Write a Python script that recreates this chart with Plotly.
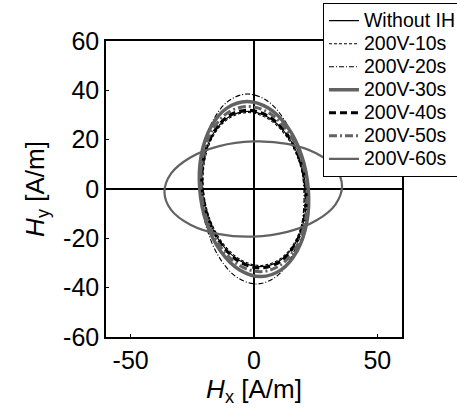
import plotly.graph_objects as go

# Series names
names = ["Without IH", "200V-10s", "200V-20s", "200V-30s", "200V-40s", "200V-50s", "200V-60s"]

# Loci (Hx, Hy in A/m), closed loops
without_ih_x = [21.0, 18.4, 13.1, 5.7, -2.5, -10.4, -16.6, -20.4, -21.0, -18.4, -13.1, -5.7, 2.5, 10.4, 16.6, 20.4, 21.0]
without_ih_y = [0, 12.1, 22.3, 29.1, 31.5, 29.1, 22.3, 12.1, 0, -12.1, -22.3, -29.1, -31.5, -29.1, -22.3, -12.1, 0]

s10_x = [20.5, 18.0, 12.7, 5.5, -2.5, -10.2, -16.3, -19.9, -20.5, -18.0, -12.7, -5.5, 2.5, 10.2, 16.3, 19.9, 20.5]
s10_y = [0, 11.9, 21.9, 28.6, 31.0, 28.6, 21.9, 11.9, 0, -11.9, -21.9, -28.6, -31.0, -28.6, -21.9, -11.9, 0]

s20_x = [20.2, 17.9, 12.8, 5.6, -2.6, -10.5, -16.9, -20.9, -21.8, -19.5, -14.4, -7.2, 1.0, 8.9, 15.3, 19.3, 20.2]
s20_y = [0, 14.7, 27.2, 35.6, 38.5, 35.6, 27.2, 14.7, 0, -14.7, -27.2, -35.6, -38.5, -35.6, -27.2, -14.7, 0]

s30_x = [22.0, 19.3, 13.6, 5.8, -2.8, -11.0, -17.5, -21.4, -22.0, -19.3, -13.6, -5.8, 2.8, 11.0, 17.5, 21.4, 22.0]
s30_y = [0, 13.6, 25.1, 32.8, 35.5, 32.8, 25.1, 13.6, 0, -13.6, -25.1, -32.8, -35.5, -32.8, -25.1, -13.6, 0]

s40_x = [21.0, 18.4, 13.1, 5.7, -2.5, -10.4, -16.6, -20.4, -21.0, -18.4, -13.1, -5.7, 2.5, 10.4, 16.6, 20.4, 21.0]
s40_y = [0, 12.3, 22.6, 29.6, 32.0, 29.6, 22.6, 12.3, 0, -12.3, -22.6, -29.6, -32.0, -29.6, -22.6, -12.3, 0]

s50_x = [21.5, 18.9, 13.4, 5.9, -2.5, -10.5, -17.0, -20.8, -21.5, -18.9, -13.4, -5.9, 2.5, 10.5, 17.0, 20.8, 21.5]
s50_y = [0, 12.8, 23.7, 31.0, 33.5, 31.0, 23.7, 12.8, 0, -12.8, -23.7, -31.0, -33.5, -31.0, -23.7, -12.8, 0]

s60_x = [35.7, 33.0, 25.2, 13.5, -0.3, -14.1, -25.8, -33.6, -36.3, -33.6, -25.8, -14.1, -0.3, 13.5, 25.2, 33.0, 35.7]
s60_y = [1.2, 8.5, 14.5, 18.3, 19.3, 17.4, 12.8, 6.3, -1.2, -8.5, -14.5, -18.3, -19.3, -17.4, -12.8, -6.3, 1.2]

# Axis ticks
x_tickvals = [-50, 0, 50]
x_ticktext = ["-50", "0", "50"]
y_tickvals = [-60, -40, -20, 0, 20, 40, 60]
y_ticktext = ["-60", "-40", "-20", "0", "20", "40", "60"]

series_x = [without_ih_x, s10_x, s20_x, s30_x, s40_x, s50_x, s60_x]
series_y = [without_ih_y, s10_y, s20_y, s30_y, s40_y, s50_y, s60_y]

GRAY = "#626262"
styles = [
    dict(color="black", width=1.2, dash="solid"),
    dict(color="black", width=1.1, dash="3px,2px"),
    dict(color="black", width=1.1, dash="5px,2px,1px,2px"),
    dict(color=GRAY, width=3.5, dash="solid"),
    dict(color="black", width=3.0, dash="7px,4px"),
    dict(color=GRAY, width=3.0, dash="8px,3px,2px,3px"),
    dict(color=GRAY, width=2.2, dash="solid"),
]

FONT = "Liberation Sans, Arial, sans-serif"

fig = go.Figure()
for name, xs, ys, st in zip(names, series_x, series_y, styles):
    fig.add_trace(go.Scatter(
        x=xs, y=ys, mode="lines",
        name='<span style="font-size:19.5px">' + name + '</span>',
        line=dict(color=st["color"], width=st["width"], dash=st["dash"], shape="spline", smoothing=1.0),
    ))

fig.update_layout(
    width=457, height=408,
    margin=dict(l=106, r=55, t=41, b=71, autoexpand=False),
    paper_bgcolor="white", plot_bgcolor="white",
    font=dict(family=FONT, color="black", size=25),
    showlegend=True,
    legend=dict(
        x=0.733, y=0.540, xanchor="left", yanchor="bottom",
        bordercolor="black", borderwidth=1, bgcolor="white",
        font=dict(family=FONT, size=15.4, color="black"),
        tracegroupgap=0, itemwidth=30,
    ),
)

fig.update_xaxes(
    range=[-60, 60], tickvals=x_tickvals, ticktext=x_ticktext,
    ticks="inside", ticklen=3, tickwidth=1, tickcolor="black",
    showline=True, linecolor="black", linewidth=1.5, mirror=True,
    showgrid=False, zeroline=True, zerolinecolor="black", zerolinewidth=1.5,
    tickfont=dict(size=25, family=FONT),
    title=dict(text="<i>H</i><sub>x</sub> [A/m]", font=dict(size=26, family=FONT), standoff=4),
)
fig.update_yaxes(
    range=[-60, 60], tickvals=y_tickvals, ticktext=y_ticktext,
    ticks="inside", ticklen=3, tickwidth=1, tickcolor="black",
    showline=True, linecolor="black", linewidth=1.5, mirror=True,
    showgrid=False, zeroline=True, zerolinecolor="black", zerolinewidth=1.5,
    tickfont=dict(size=25, family=FONT),
    title=dict(text="<i>H</i><sub>y</sub> [A/m]", font=dict(size=26, family=FONT), standoff=11),
)

fig.write_html("out.html", config={"displayModeBar": False},
               post_script="document.body.style.margin='0';")
